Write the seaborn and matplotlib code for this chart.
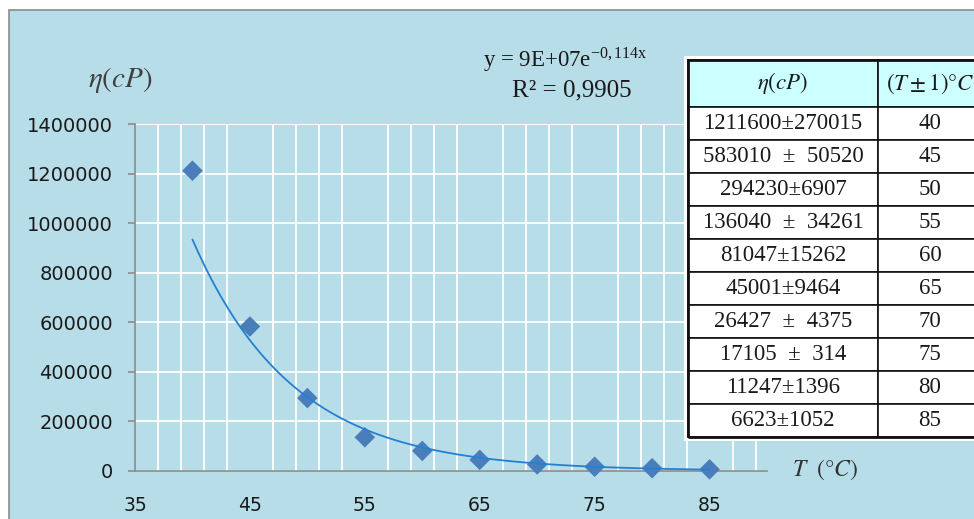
import numpy as np
import pandas as pd
import matplotlib
matplotlib.use("Agg")
import matplotlib.pyplot as plt
import seaborn as sns
from matplotlib.patches import Rectangle

temps = [40, 45, 50, 55, 60, 65, 70, 75, 80, 85]
visc = [1211600, 583010, 294230, 136040, 81047, 45001, 26427, 17105, 11247, 6623]
visc_err = ["1211600\u00b1270015", "583010  \u00b1  50520", "294230\u00b16907",
            "136040  \u00b1  34261", "81047\u00b115262", "45001\u00b19464",
            "26427  \u00b1  4375", "17105  \u00b1  314", "11247\u00b11396", "6623\u00b11052"]
x_ticks = [35, 45, 55, 65, 75, 85]
y_ticks = [0, 200000, 400000, 600000, 800000, 1000000, 1200000, 1400000]
eq_text = r"y = 9E+07e$^{\mathregular{-0,114x}}$"
r2_text = "R\u00b2 = 0,9905"

bg = "#b7dde8"
sns.set_style("white")
plt.rcParams["mathtext.fontset"] = "stix"
plt.rcParams["font.family"] = ["DejaVu Sans"]

W, H = 974, 519
fig = plt.figure(figsize=(W / 100, H / 100), dpi=100)
fig.patch.set_facecolor("white")

def fr(x0, y0, x1, y1):
    # pixel box (top-left origin) -> figure fraction [l, b, w, h]
    return [x0 / W, (H - y1) / H, (x1 - x0) / W, (y1 - y0) / H]

# chart frame: white margin + grey border + blue fill
l, b, w, h = fr(9, 10, 980, 525)
fig.patches.append(Rectangle((l, b), w, h, transform=fig.transFigure,
                             facecolor=bg, edgecolor="#8c8c8c", lw=1.2, zorder=-5))

ax = fig.add_axes(fr(135, 124, 767, 471), zorder=1)
ax.set_facecolor(bg)

df = pd.DataFrame({"T": temps, "eta": visc})

# exponential trendline (log-linear least squares, like Excel)
slope, icpt = np.polyfit(df["T"], np.log(df["eta"]), 1)
xs = np.linspace(min(temps), max(temps), 200)
trend = pd.DataFrame({"T": xs, "eta": np.exp(icpt) * np.exp(slope * xs)})

sns.scatterplot(data=df, x="T", y="eta", marker="D", s=110, color="#4a7ebb",
                edgecolor="none", ax=ax, zorder=3, clip_on=False)
sns.lineplot(data=trend, x="T", y="eta", color="#2680d0", lw=1.3, ax=ax, zorder=4)

ax.set_xlim(35, 90)
ax.set_ylim(0, 1400000)
ax.set_xticks(x_ticks)
ax.set_yticks(y_ticks)
ax.set_yticklabels([str(v) for v in y_ticks])
ax.set_xticks(np.arange(35, 90, 2), minor=True)
ax.grid(False)
ax.grid(True, which="minor", axis="x", color="white", lw=1.3)
ax.grid(True, which="major", axis="y", color="white", lw=1.3)
ax.set_axisbelow(True)
ax.set_xlabel("")
ax.set_ylabel("")
for s in ["top", "right"]:
    ax.spines[s].set_visible(False)
for s in ["left", "bottom"]:
    ax.spines[s].set_color("#8c8c8c")
    ax.spines[s].set_linewidth(1.2)
ax.tick_params(axis="y", which="major", length=5, width=1.2, color="#8c8c8c",
               labelsize=14, pad=11, left=True)
ax.tick_params(axis="x", which="both", length=0, labelsize=13.5, pad=18)
for t in ax.get_xticklabels() + ax.get_yticklabels():
    t.set_color("#1a1a1a")

# axis titles and trendline equation
fig.text(120 / W, 1 - 80 / H, r"$\eta(cP)$", fontsize=21, color="#404040",
         ha="center", va="center")
fig.text(825 / W, 1 - 470 / H, r"$T\ \ (\degree C)$", fontsize=17, color="#303030",
         ha="center", va="center")
fig.text(565 / W, 1 - 60 / H, eq_text, family="Liberation Serif", fontsize=16.5,
         color="#1a1a1a", ha="center", va="center")
fig.text(572 / W, 1 - 90 / H, r2_text, family="Liberation Serif", fontsize=18,
         color="#1a1a1a", ha="center", va="center")

# data table on the right
l, b, w, h = fr(684, 56, 990, 441)
fig.patches.append(Rectangle((l, b), w, h, transform=fig.transFigure,
                             facecolor="white", edgecolor="none", zorder=5))
tax = fig.add_axes(fr(688, 60, 982, 437), zorder=6)
tax.axis("off")
cell_text = [[v, str(t)] for v, t in zip(visc_err, temps)]
tab = tax.table(cellText=cell_text,
                colLabels=[r"$\eta(cP)$", r"$(T\pm1)\degree C$"],
                colWidths=[190, 104], cellLoc="center", bbox=[0, 0, 1, 1])
tab.auto_set_font_size(False)
for (r, c), cell in tab.get_celld().items():
    cell.set_linewidth(1.2)
    cell.set_edgecolor("#111111")
    cell.set_height(47 if r == 0 else 33)
    txt = cell.get_text()
    txt.set_color("#1a1a1a")
    if r == 0:
        cell.set_facecolor("#ccffff")
        txt.set_fontsize(16.5)
    else:
        txt.set_fontfamily("Liberation Serif")
        txt.set_fontsize(16.5)
tax.add_patch(Rectangle((0, 0), 1, 1, transform=tax.transAxes, fill=False,
                        edgecolor="#111111", lw=2, clip_on=False))

fig.savefig("out.png", dpi=100, facecolor=fig.get_facecolor())
